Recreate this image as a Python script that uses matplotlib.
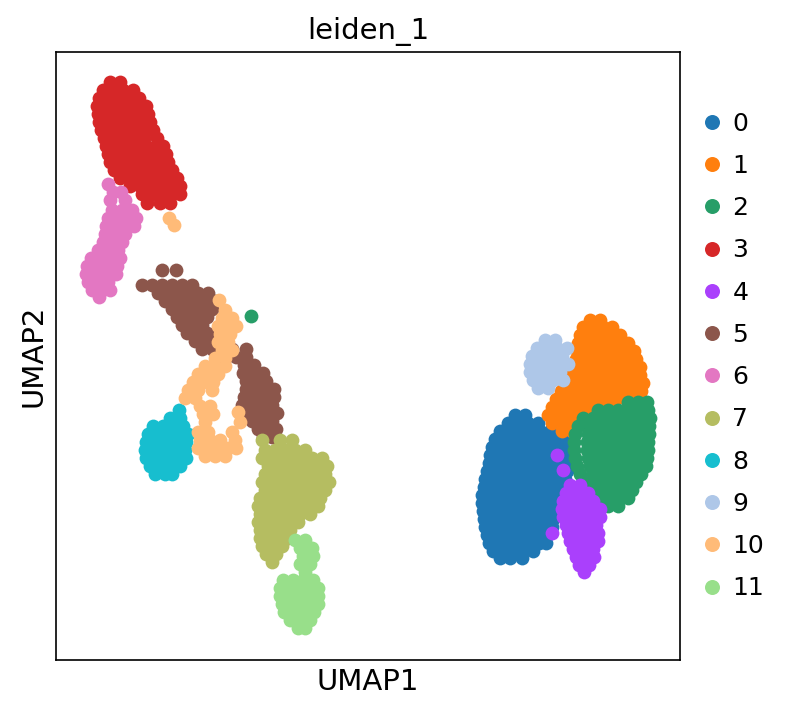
import numpy as np
import matplotlib
matplotlib.use("Agg")
from matplotlib import pyplot as plt
from matplotlib.lines import Line2D

# leiden_1 clusters on the UMAP embedding
# each row: (UMAP2, [UMAP1 values])
categories = ["0", "1", "2", "3", "4", "5", "6", "7", "8", "9", "10", "11"]
palette = ["#1f77b4", "#ff7f0e", "#279e68", "#d62728", "#aa40fc", "#8c564b",
           "#e377c2", "#b5bd61", "#17becf", "#aec7e8", "#ffbb78", "#98df8a"]

c0 = [(-415, [515, 525]),
      (-423, [508, 518, 528, 538]),
      (-431, [500, 510, 520, 530, 540, 550]),
      (-439, [495, 505, 515, 525, 535, 545, 555, 563]),
      (-447, [492, 502, 512, 522, 532, 542, 552, 560, 568]),
      (-455, [490, 500, 510, 520, 530, 540, 550, 560, 569]),
      (-463, [489, 499, 509, 519, 529, 539, 549, 559, 568]),
      (-471, [487, 497, 507, 517, 527, 537, 547, 557, 567]),
      (-479, [485, 495, 505, 515, 525, 535, 545, 555, 565]),
      (-487, [484, 494, 504, 514, 524, 534, 544, 554, 563]),
      (-495, [482, 492, 502, 512, 522, 532, 542, 552, 560]),
      (-503, [482, 492, 502, 512, 522, 532, 542, 552, 558]),
      (-511, [483, 493, 503, 513, 523, 533, 543, 553]),
      (-519, [484, 494, 504, 514, 524, 534, 544, 553]),
      (-527, [485, 495, 505, 515, 525, 535, 545, 552]),
      (-535, [487, 497, 507, 517, 527, 537, 547]),
      (-543, [489, 499, 509, 519, 529, 539, 546]),
      (-551, [493, 503, 513, 523, 533]),
      (-558, [500, 510, 522])]

c1 = [(-320, [590, 600]),
      (-327, [583, 593, 603, 612]),
      (-335, [580, 590, 600, 610, 620]),
      (-343, [578, 588, 598, 608, 618, 628]),
      (-351, [577, 587, 597, 607, 617, 627, 634]),
      (-359, [576, 586, 596, 606, 616, 626, 636]),
      (-367, [574, 584, 594, 604, 614, 624, 634, 640]),
      (-375, [570, 580, 590, 600, 610, 620, 630, 640]),
      (-383, [566, 576, 586, 596, 606, 616, 626, 636, 643]),
      (-391, [561, 571, 581, 591, 601, 611, 621, 631, 641]),
      (-399, [556, 566, 576, 586, 596, 606, 616, 626, 636]),
      (-407, [552, 562, 572, 582, 592, 602, 612]),
      (-415, [548, 558, 570, 580, 590, 600]),
      (-423, [552, 563, 575, 588]),
      (-431, [562, 572])]

c2 = [(-316, [251]),
      (-402, [628, 638, 647]),
      (-410, [598, 608, 618, 628, 638, 648]),
      (-418, [583, 593, 603, 613, 623, 633, 643, 650]),
      (-426, [578, 590, 600, 610, 620, 630, 640, 649]),
      (-434, [575, 588, 598, 608, 618, 628, 638, 649]),
      (-442, [574, 587, 597, 607, 617, 627, 637, 648]),
      (-450, [574, 587, 597, 607, 617, 627, 637, 648]),
      (-458, [575, 588, 598, 608, 618, 628, 638, 647]),
      (-466, [577, 590, 600, 610, 620, 630, 640, 646]),
      (-474, [580, 593, 603, 613, 623, 633, 641]),
      (-482, [584, 597, 607, 617, 627, 636]),
      (-490, [593, 603, 613, 623, 632]),
      (-498, [600, 610, 620, 628]),
      (-506, [608, 618])]

c3 = [(-82, [110, 120]),
      (-90, [103, 113, 123, 133]),
      (-98, [99, 109, 119, 129, 139]),
      (-106, [97, 107, 117, 127, 137, 146]),
      (-114, [98, 108, 118, 128, 138, 148]),
      (-122, [99, 109, 119, 129, 139, 150]),
      (-130, [101, 111, 121, 131, 141, 153]),
      (-138, [104, 114, 124, 134, 144, 157]),
      (-146, [106, 116, 126, 136, 146, 156, 163]),
      (-154, [108, 118, 128, 138, 148, 158, 166]),
      (-162, [110, 120, 130, 140, 150, 160, 168]),
      (-170, [114, 124, 134, 144, 154, 164, 172]),
      (-178, [120, 130, 140, 150, 160, 170, 177]),
      (-186, [130, 140, 150, 160, 170, 180]),
      (-194, [142, 152, 162, 172, 180]),
      (-203, [147, 160, 170])]

c4 = [(-455, [557]),
      (-470, [563]),
      (-485, [570, 580]),
      (-493, [566, 576, 588]),
      (-501, [563, 573, 583, 593]),
      (-509, [562, 572, 582, 592, 600]),
      (-517, [563, 573, 583, 593, 600]),
      (-525, [566, 576, 586, 596]),
      (-533, [552, 568, 578, 588, 598]),
      (-541, [570, 580, 590, 598]),
      (-549, [573, 583, 593]),
      (-557, [576, 586, 594]),
      (-565, [579, 589]),
      (-572, [584])]

c5 = [(-270, [162, 176]),
      (-285, [142, 152, 162, 172, 182, 192]),
      (-293, [158, 168, 178, 188, 198, 208]),
      (-301, [165, 175, 185, 195, 205, 215]),
      (-309, [172, 182, 192, 202, 212]),
      (-317, [177, 187, 197, 207]),
      (-325, [182, 192, 202]),
      (-333, [187, 197, 207]),
      (-341, [195, 205, 215]),
      (-349, [202, 212, 222, 232, 246]),
      (-357, [216, 226, 236, 246]),
      (-365, [244, 254]),
      (-373, [243, 253, 263]),
      (-381, [246, 256, 266]),
      (-389, [246, 256, 266, 274]),
      (-397, [244, 254, 264, 274]),
      (-405, [242, 252, 262, 272]),
      (-413, [247, 257, 267, 277]),
      (-421, [252, 262, 272]),
      (-429, [258, 268, 276]),
      (-437, [263, 272])]

c6 = [(-184, [108]),
      (-192, [113, 121]),
      (-200, [110, 125]),
      (-210, [112, 122, 132]),
      (-218, [108, 118, 128, 136]),
      (-226, [106, 116, 126, 134]),
      (-234, [105, 115, 125]),
      (-242, [103, 113, 122]),
      (-250, [98, 108, 118]),
      (-258, [91, 101, 111, 120]),
      (-266, [87, 97, 107, 117]),
      (-274, [86, 96, 106, 116]),
      (-282, [88, 98, 108]),
      (-290, [92, 102, 110]),
      (-297, [99])]

c7 = [(-440, [262, 280, 292]),
      (-450, [265, 275, 285, 295, 305]),
      (-458, [262, 272, 282, 292, 302, 312, 322]),
      (-466, [268, 278, 288, 298, 308, 318, 327]),
      (-474, [265, 275, 285, 295, 305, 315, 325]),
      (-482, [262, 272, 282, 292, 302, 312, 322, 329]),
      (-490, [265, 275, 285, 295, 305, 315, 325]),
      (-498, [260, 270, 280, 290, 300, 310, 320]),
      (-506, [258, 268, 278, 288, 298, 308, 318]),
      (-514, [260, 270, 280, 290, 300, 310]),
      (-522, [258, 268, 278, 288, 298]),
      (-530, [260, 270, 280, 290]),
      (-538, [260, 270, 280, 288]),
      (-546, [262, 272, 282]),
      (-554, [266, 276]),
      (-562, [272])]

c8 = [(-410, [179]),
      (-418, [170, 180]),
      (-426, [153, 163, 173, 183]),
      (-434, [148, 158, 168, 178, 188]),
      (-442, [146, 156, 166, 176, 186]),
      (-450, [145, 155, 165, 175, 185]),
      (-458, [146, 156, 166, 176, 186]),
      (-466, [150, 160, 170, 180]),
      (-474, [155, 165, 172])]

c9 = [(-340, [545, 555]),
      (-348, [537, 547, 557, 567]),
      (-356, [532, 542, 552, 562]),
      (-364, [530, 540, 550, 560, 568]),
      (-372, [530, 540, 550, 560]),
      (-380, [533, 543, 553, 563]),
      (-388, [538, 548])]

c10 = [(-218, [169]),
       (-225, [174]),
       (-300, [219]),
       (-310, [225]),
       (-318, [222, 232]),
       (-326, [218, 228, 236]),
       (-334, [220, 230]),
       (-342, [218, 228]),
       (-350, [222, 232]),
       (-358, [215, 225]),
       (-366, [205, 215, 225]),
       (-374, [198, 208, 218]),
       (-382, [193, 203, 213]),
       (-390, [188, 198, 212]),
       (-398, [185, 195]),
       (-406, [200, 210]),
       (-412, [238]),
       (-414, [203, 213]),
       (-422, [205, 240]),
       (-432, [198, 208, 232]),
       (-440, [200, 210, 220, 235]),
       (-448, [198, 208, 218, 228, 236]),
       (-456, [205, 215, 225])]

c11 = [(-540, [295, 305]),
       (-548, [300, 312]),
       (-556, [303, 313]),
       (-564, [300, 310]),
       (-572, [305]),
       (-580, [283, 293, 303, 313]),
       (-588, [280, 290, 300, 310, 318]),
       (-596, [280, 290, 300, 310, 318]),
       (-604, [282, 292, 302, 312, 318]),
       (-612, [284, 294, 304, 314]),
       (-620, [290, 300, 310]),
       (-628, [298, 305])]

clusters = [c0, c1, c2, c3, c4, c5, c6, c7, c8, c9, c10, c11]


def unpack(rows):
    xs, ys = [], []
    for y, row in rows:
        xs += row
        ys += [y] * len(row)
    return np.array(xs), np.array(ys)


fig = plt.figure(figsize=(5.3, 4.78), dpi=150)
ax = fig.add_axes([56 / 795, 57 / 717, 624 / 795, 608 / 717])

for rows, col in zip(clusters, palette):
    x, y = unpack(rows)
    ax.scatter(x, y, s=44, c=col, linewidths=0)

ax.set_xlim(56, 680)
ax.set_ylim(-660, -52)
ax.set_xticks([])
ax.set_yticks([])
ax.set_title("leiden_1", fontsize=14)
ax.set_xlabel("UMAP1", fontsize=14)
ax.set_ylabel("UMAP2", fontsize=14)

handles = [Line2D([], [], marker="o", linestyle="", markersize=7.2,
                  markerfacecolor=col, markeredgewidth=0) for col in palette]
ax.legend(handles, categories, frameon=False, loc="center left",
          bbox_to_anchor=(1.016, 0.5), fontsize=12, borderpad=0,
          handlelength=0.8, handletextpad=0.4, labelspacing=0.73)

fig.savefig("out.png", dpi=150)
